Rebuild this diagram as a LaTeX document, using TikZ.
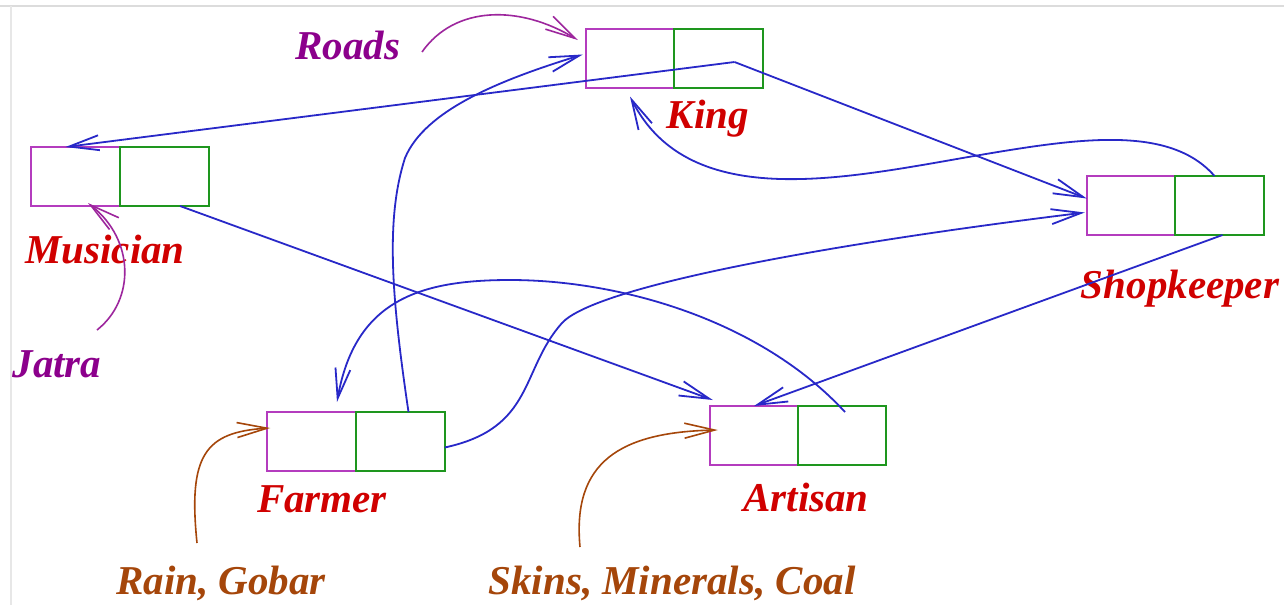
\documentclass[tikz,border=0pt]{standalone}
\usepackage{fontspec}
\setmainfont{Liberation Serif}
\usetikzlibrary{arrows.meta}
\definecolor{lblred}{RGB}{208,0,0}
\definecolor{lblpurple}{RGB}{140,0,140}
\definecolor{lblbrown}{RGB}{165,70,10}
\definecolor{linkblue}{RGB}{40,40,200}
\definecolor{cellmag}{RGB}{180,60,190}
\definecolor{cellgreen}{RGB}{30,150,30}
\definecolor{framegray}{RGB}{220,220,220}
\begin{document}
\begin{tikzpicture}[x=0.5pt,y=-0.5pt,
  cell/.style={line width=1pt, minimum width=44.25pt, minimum height=29.5pt, inner sep=0pt, outer sep=0pt},
  lcell/.style={cell, draw=cellmag},
  rcell/.style={cell, draw=cellgreen},
  lbl/.style={font=\fontsize{20.5}{24}\selectfont\bfseries\itshape, anchor=base, inner sep=0pt},
  tip/.style={-{Straight Barb[length=15pt,width=7.5pt]}},
  link/.style={draw=linkblue, line width=0.9pt, tip},
  feedp/.style={draw=lblpurple!85, line width=0.8pt, tip},
  feedb/.style={draw=lblbrown, line width=0.8pt, tip}
]
\useasboundingbox (0,0) rectangle (1284,605);
\fill[white] (0,0) rectangle (1284,605);
\draw[framegray, line width=1.2pt] (0,6) -- (1284,6);
\draw[framegray!70, line width=0.8pt] (11,6) -- (11,605);

% cells
\node[lcell] (kingL) at (630,58) {};
\node[rcell] (kingR) at (718.5,58) {};
\node[lcell] (musL) at (75.5,176.5) {};
\node[rcell] (musR) at (164.5,176.5) {};
\node[lcell] (shopL) at (1131,205.5) {};
\node[rcell] (shopR) at (1219.5,205.5) {};
\node[lcell] (farL) at (311.5,441.5) {};
\node[rcell] (farR) at (400.5,441.5) {};
\node[lcell] (artL) at (754,435.5) {};
\node[rcell] (artR) at (842,435.5) {};

% labels
\node[lbl, text=lblred] (kingT) at (708,128) {King};
\node[lbl, text=lblred] (musT) at (105,263) {Musician};
\node[lbl, text=lblred] (shopT) at (1180,298) {Shopkeeper};
\node[lbl, text=lblred] (farT) at (322,512) {Farmer};
\node[lbl, text=lblred] (artT) at (806,511) {Artisan};
\node[lbl, text=lblpurple] (roads) at (348,59) {Roads};
\node[lbl, text=lblpurple] (jatra) at (57,377) {Jatra};
\node[lbl, text=lblbrown] (rain) at (221,594) {Rain, Gobar};
\node[lbl, text=lblbrown] (skins) at (672,594) {Skins, Minerals, Coal};

\coordinate (roadsrc) at (422,52);
\coordinate (jatrasrc) at (97,330);
\coordinate (rainsrc) at (197,543);
\coordinate (skinsrc) at (580,547);

% blue links
\draw[link] ([shift={(16,4)}]kingR.center) -- ([shift={(-10,0)}]musL.north);
\draw[link] ([shift={(16,4)}]kingR.center) -- ([shift={(0,-7)}]shopL.west);
\draw[link] ([shift={(-5,0)}]shopR.north) .. controls (1170,125) and (1080,138) .. (980,155)
  .. controls (850,177) and (690,215) .. ([shift={(0,9)}]kingL.south);
\draw[link] ([shift={(3,0)}]shopR.south) -- (artL.north);
\draw[link] ([shift={(15.5,0)}]musR.south) -- ([shift={(3,-6)}]artL.north west);
\draw[link] ([shift={(3,-23.5)}]artR.center) .. controls (760,320) and (620,280) .. (510,280)
  .. controls (420,280) and (355,300) .. ([shift={(25.5,-10)}]farL.north);
\draw[link] ([shift={(8,0)}]farR.north) .. controls (392,300) and (385,220) .. (405,158)
  .. controls (425,110) and (500,80) .. ([shift={(-3,-3.5)}]kingL.west);
\draw[link] ([shift={(0,6)}]farR.east) .. controls (535,428) and (520,370) .. (562,323)
  .. controls (595,287) and (820,245) .. ([shift={(-2,7)}]shopL.west);

% inputs
\draw[feedp] (roadsrc) .. controls (455,5) and (520,5) .. ([shift={(-8,-18)}]kingL.west);
\draw[feedp] (jatrasrc) .. controls (135,300) and (135,240) .. ([shift={(12.5,-3)}]musL.south);
\draw[feedb] (rainsrc) .. controls (188,455) and (205,432) .. ([shift={(3,-13.5)}]farL.west);
\draw[feedb] (skinsrc) .. controls (572,462) and (620,432) .. ([shift={(8,-5.5)}]artL.west);
\end{tikzpicture}
\end{document}
